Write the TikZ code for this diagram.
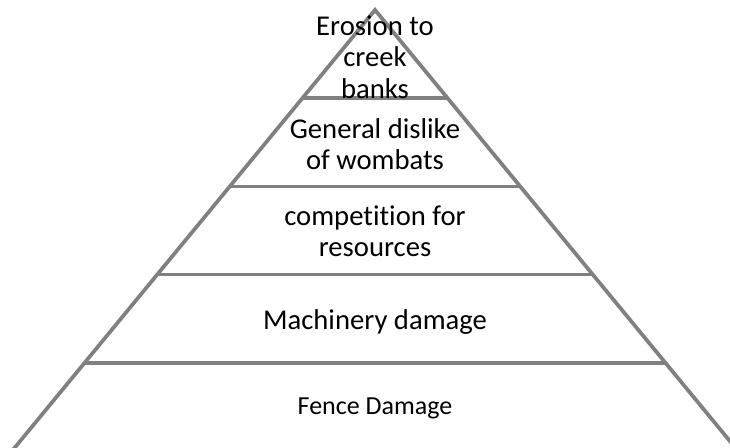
\documentclass[tikz,border=0pt]{standalone}
\usepackage{fontspec}
\setmainfont{Carlito}[Ligatures=NoCommon]
\usetikzlibrary{calc}

\definecolor{pyrgray}{RGB}{128,128,128}
\tikzset{
	level line/.style={draw=pyrgray, line width=2.8pt},
	level text/.style={align=center, inner sep=0pt, font=\fontsize{21.5}{23.5}\selectfont},
	base text/.style={align=center, inner sep=0pt, font=\fontsize{19.5}{22}\selectfont},
}

\begin{document}
\begin{tikzpicture}[x=0.75pt,y=0.75pt]
	\useasboundingbox (0,0) rectangle (730,448);

	% corners of the pyramid
	\coordinate (apex) at (375,438);
	\coordinate (baseL) at (12,-3);
	\coordinate (baseR) at (738,-3);

	% outline, cut at the page edge
	\begin{scope}
		\clip (0,0) rectangle (730,448);
		\draw[level line, line join=miter] (baseL) -- (apex) -- (baseR) -- cycle;
	\end{scope}

	% dividing lines between the levels
	\foreach \t in {0.2,0.4,0.6,0.8} {
		\draw[level line] ($(apex)!\t!(baseL)$) -- ($(apex)!\t!(baseR)$);
	}

	% level labels, top to bottom
	\node[level text] (erosion) at (375,391) {Erosion to\\creek\\banks};
	\node[level text] (dislike) at (375,304) {General dislike\\of wombats};
	\node[level text] (competition) at (375,217) {competition for\\resources};
	\node[level text] (machinery) at (375,126) {Machinery damage};
	\node[base text] (fence) at (375,40) {Fence Damage};
\end{tikzpicture}
\end{document}
